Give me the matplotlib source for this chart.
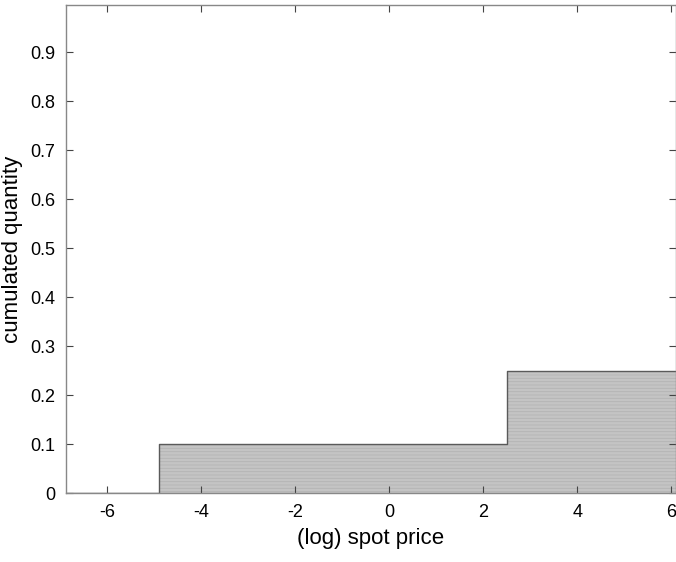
import numpy as np
import matplotlib
matplotlib.use("Agg")
import matplotlib.pyplot as plt

# =====================================================
# Data: cumulated quantity vs (log) spot price
# =====================================================
price_steps = [-6.9, -4.9, 2.5, 6.2]
cum_quantity = [0.0, 0.1, 0.25, 0.25]

x_ticks = [-6, -4, -2, 0, 2, 4, 6]
y_ticks = [0, 0.1, 0.2, 0.3, 0.4, 0.5, 0.6, 0.7, 0.8, 0.9]

plt.rcParams["font.family"] = ["Liberation Sans", "DejaVu Sans"]
plt.rcParams["hatch.linewidth"] = 0.6

fig = plt.figure(figsize=(6.76, 5.62), dpi=100)
ax = fig.add_axes([66 / 676, 69 / 562, 610 / 676, 488 / 562])

# shaded area with faint horizontal stripes (hatch takes the edge colour)
ax.fill_between(
    price_steps,
    cum_quantity,
    step="post",
    facecolor="#c4c4c4",
    edgecolor="#b4b4b4",
    hatch="-----",
    linewidth=0,
)
# outline of the step curve
ax.step(price_steps, cum_quantity, where="post", color="#5a5a5a", linewidth=1.0)

ax.set_xlim(-6.87, 6.1)
ax.set_ylim(0, 0.996)
ax.set_xticks(x_ticks)
ax.set_yticks(y_ticks)
ax.set_xticklabels([str(t) for t in x_ticks])
ax.set_yticklabels(["0"] + [f"{t:.1f}" for t in y_ticks[1:]])

ax.tick_params(direction="in", length=5, width=0.8, color="#444444",
               labelsize=13, top=True, right=True, pad=8)
for spine in ax.spines.values():
    spine.set_color("#888888")
    spine.set_linewidth(1.0)

ax.set_xlabel("(log) spot price", fontsize=16, labelpad=5)
ax.set_ylabel("cumulated quantity", fontsize=16)
ax.yaxis.set_label_coords(-0.07, 0.5)

fig.savefig("out.png", dpi=100)
